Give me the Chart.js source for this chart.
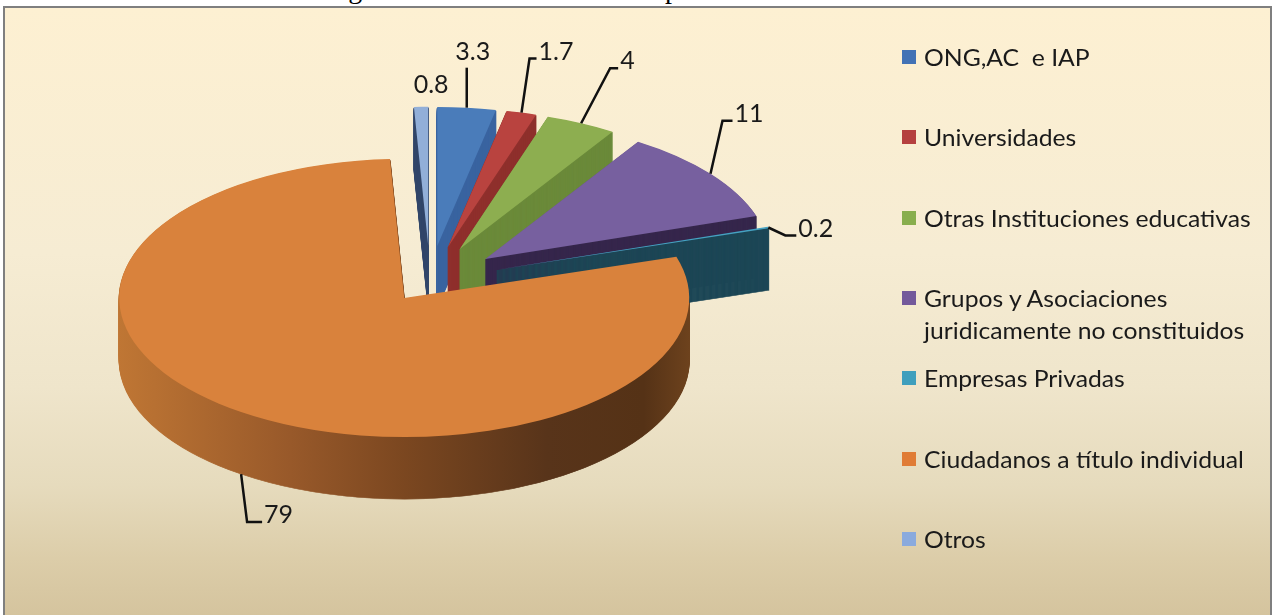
<!DOCTYPE html>
<html lang="es">
<head>
<meta charset="utf-8">
<title>Distribución de Tipos de Actores Ciudadanos</title>
<script src="https://cdn.jsdelivr.net/npm/chart.js@4.4.1/dist/chart.umd.min.js"></script>
<style>
  html, body { margin: 0; padding: 0; width: 1273px; height: 615px; overflow: hidden; background: #ffffff; }
  #title {
    position: absolute; left: 325px; top: -25px; white-space: pre;
    font: 28px "Liberation Serif", "Times New Roman", serif; color: #000; line-height: 28px;
  }
  #frame {
    position: absolute; left: 3px; top: 6px; width: 1265px; height: 612px;
    border: 2px solid #7f7f7f;
    background: linear-gradient(to bottom, #fdf0d2 0%, #f6ecd3 40%, #efe5cb 62%, #e6dbbd 78%, #dccda9 90%, #d4c39d 100%);
  }
  #chart { position: absolute; left: 0; top: 0; }
  #legend { position: absolute; left: 0; top: 0; width: 1273px; height: 615px; pointer-events: none; }
  .lg-box { position: absolute; width: 14px; height: 14px; }
  .lg-text {
    position: absolute; white-space: pre-wrap; color: #1a1a1a;
    font-family: Lato, "Open Sans", sans-serif; font-size: 24px; line-height: 32px;
    transform-origin: left top;
  }
</style>
</head>
<body>
<div id="title">Figura 3.     Distribución de Tipos de Actores Ciudadanos</div>
<div id="frame"></div>
<canvas id="chart" width="1273" height="615"></canvas>
<div id="legend"></div>
<script>
// Tipos de actores ciudadanos y su participación (%)
const categories = [
  'ONG,AC  e IAP',
  'Universidades',
  'Otras Instituciones educativas',
  'Grupos y Asociaciones juridicamente no constituidos',
  'Empresas Privadas',
  'Ciudadanos a título individual',
  'Otros'
];
const shares = [3.3, 1.7, 4, 11, 0.2, 79, 0.8];

// Colores de la cara superior y de los lados del pastel
const topColors  = ['#4a7cba', '#b9433f', '#8dae50', '#77609f', '#45a2c2', '#d9823c', '#92afd8'];
const sideColors = ['#3a64a0', '#8f302d', '#6b8a3a', '#36274c', '#1d4756', null, '#33476a'];
const legendColors = ['#4272b5', '#b5403f', '#88ae4d', '#73599b', '#3f9fbd', '#e07c36', '#8aaadd'];

// Separación de cada porción (px) y geometría del pastel inclinado
const explode = [70, 70, 70, 70, 70, 45, 70];
const PIE_RADIUS = 285;
const TILT = 0.488;      // relación alto/ancho de la elipse
const DEPTH = 62;        // grosor del disco en px

// Líneas guía de las etiquetas: [dx, dy, codo] desde el borde de cada porción
const leaders = [[0, -40, 0], [8, -54, 7], [29, -55, 8], [12, -53, 10], [17, 8, 11], [6, 48, 15], null];

// Porción con desplazamiento propio (explosión) sin agrandar el radio
class ExplodedArc extends Chart.ArcElement {
  draw(ctx) {
    const e = this.options.explode || 0;
    const mid = (this.startAngle + this.endAngle) / 2;
    ctx.save();
    ctx.translate(Math.cos(mid) * e, Math.sin(mid) * e);
    super.draw(ctx);
    ctx.restore();
  }
}
ExplodedArc.id = 'explodedArc';
ExplodedArc.defaults = Object.assign({}, Chart.ArcElement.defaults, { explode: 0 });

class TiltedPieController extends Chart.PieController {}
TiltedPieController.id = 'tiltedPie';
TiltedPieController.defaults = { dataElementType: 'explodedArc' };

Chart.register(ExplodedArc, TiltedPieController);

function wallGradient(ctx, cx, r) {
  const g = ctx.createLinearGradient(cx - r, 0, cx + r, 0);
  g.addColorStop(0.00, '#bf7634');
  g.addColorStop(0.30, '#98592a');
  g.addColorStop(0.50, '#7b4720');
  g.addColorStop(0.75, '#58341a');
  g.addColorStop(0.92, '#553216');
  g.addColorStop(1.00, '#6d421d');
  return g;
}

// Inclina el pastel y dibuja el grosor antes de las caras superiores
const tiltPlugin = {
  id: 'tilt3d',
  beforeDatasetsDraw(chart) {
    const ctx = chart.ctx;
    const arcs = chart.getDatasetMeta(0).data;
    const cy = arcs[0].y;
    ctx.save();
    ctx.translate(0, cy);
    ctx.scale(1, TILT);
    ctx.translate(0, -cy);
    const order = [5, 6, 0, 1, 2, 3, 4];
    order.forEach(i => {
      const arc = arcs[i];
      const fill = sideColors[i] || wallGradient(ctx, arc.x, arc.outerRadius);
      const side = Object.create(arc);
      side.options = Object.assign({}, arc.options, { backgroundColor: fill, borderColor: fill, borderWidth: 1.2 });
      for (let d = DEPTH; d >= 1; d--) {
        ctx.save();
        ctx.translate(0, d / TILT);
        side.draw(ctx);
        ctx.restore();
      }
    });
  },
  afterDatasetsDraw(chart) {
    const ctx = chart.ctx;
    ctx.restore();
    const arcs = chart.getDatasetMeta(0).data;
    ctx.save();
    ctx.font = '25px Lato, "Open Sans", sans-serif';
    ctx.fillStyle = '#1a1a1a';
    ctx.strokeStyle = '#111111';
    ctx.lineWidth = 2.5;
    ctx.lineJoin = 'miter';
    arcs.forEach((arc, i) => {
      const h = (arc.startAngle + arc.endAngle) / 2;
      const r = arc.outerRadius + (arc.options.explode || 0);
      const px = arc.x + Math.cos(h) * r;
      const py = arc.y + Math.sin(h) * r * TILT + (Math.sin(h) > 0 ? DEPTH : 0);
      const text = String(shares[i]);
      const l = leaders[i];
      if (!l) {
        ctx.textAlign = 'center';
        ctx.textBaseline = 'middle';
        ctx.fillText(text, px + 10, py - 22);
        return;
      }
      const ex = px + l[0], ey = py + l[1];
      ctx.beginPath();
      ctx.moveTo(px, py);
      ctx.lineTo(ex, ey);
      if (l[2]) ctx.lineTo(ex + l[2], ey);
      ctx.stroke();
      if (l[2]) {
        ctx.textAlign = 'left';
        ctx.textBaseline = 'alphabetic';
        ctx.fillText(text, ex + l[2] + 2, ey + 1);
      } else {
        ctx.textAlign = 'center';
        ctx.textBaseline = 'alphabetic';
        ctx.fillText(text, ex + 6, ey - 8);
      }
    });
    ctx.restore();
  }
};

const chart = new Chart(document.getElementById('chart'), {
  type: 'tiltedPie',
  data: {
    labels: categories,
    datasets: [{
      data: shares,
      backgroundColor: topColors,
      borderWidth: 0,
      explode: explode,
      radius: PIE_RADIUS,
      clip: false
    }]
  },
  options: {
    responsive: false,
    animation: false,
    events: [],
    layout: { padding: { left: 0, right: 413, top: 0, bottom: 55 } },
    plugins: {
      legend: { display: false },
      tooltip: { enabled: false },
      title: { display: false }
    }
  },
  plugins: [tiltPlugin]
});

// Leyenda a la derecha, una entrada cada 80 px
const legendEl = document.getElementById('legend');
categories.forEach((name, i) => {
  const lineMid = 57 + i * 80.3;
  const box = document.createElement('div');
  box.className = 'lg-box';
  box.style.left = '902px';
  box.style.top = (lineMid - 7) + 'px';
  box.style.background = legendColors[i];
  legendEl.appendChild(box);
  const txt = document.createElement('div');
  txt.className = 'lg-text';
  txt.style.left = '924px';
  txt.style.top = (lineMid - 16) + 'px';
  txt.style.width = '330px';
  txt.style.transform = 'scaleX(1.03)';
  txt.textContent = name;
  legendEl.appendChild(txt);
});
</script>
</body>
</html>
